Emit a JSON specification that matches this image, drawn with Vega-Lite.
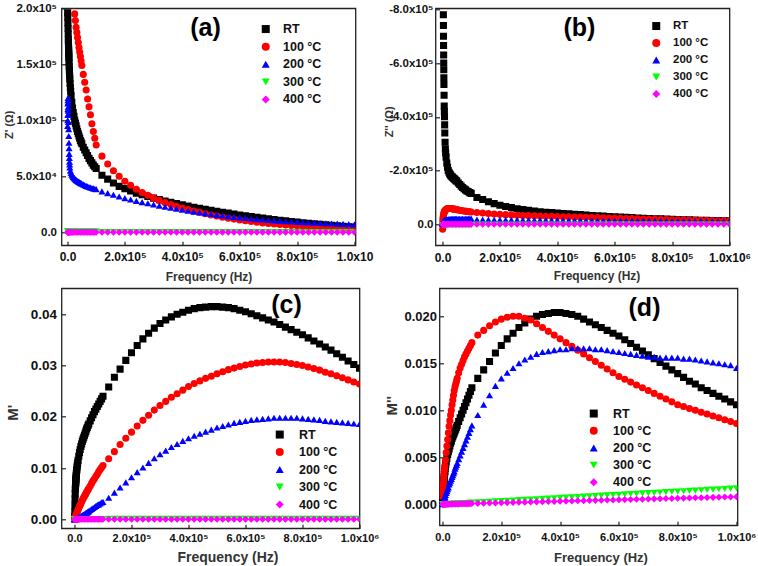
{
"$schema": "https://vega.github.io/schema/vega-lite/v6.json",
"background": "white",
"padding": {"left": 2.5, "top": 1.3, "right": 2, "bottom": 2},
"config": {
 "font": "Liberation Sans",
 "view": {"stroke": "#222", "strokeWidth": 1.3},
 "axis": {"grid": false, "domain": false, "tickSize": -4, "tickColor": "#222", "tickWidth": 1.2, "labelFont": "Liberation Sans", "labelFontWeight": "bold", "labelColor": "#111", "titleFont": "Liberation Sans", "titleFontWeight": "bold", "titleColor": "#333", "labelOverlap": false, "labelFlush": false, "labelBound": false, "titleBaseline": "middle"},
 "legend": {"padding": 0, "labelFont": "Liberation Sans", "labelFontWeight": "bold", "labelColor": "#111", "symbolStrokeWidth": 0, "symbolSize": 64, "titlePadding": 0},
 "text": {"font": "Liberation Sans"}
},
"datasets": {"m": [
{"f":500,"s":"RT","a":196000,"b":-2500000,"c":0.0005,"d":0.0003},
{"f":1000,"s":"RT","a":192000,"b":-1500000,"c":0.0015,"d":0.0005},
{"f":1500,"s":"RT","a":187000,"b":-1200000,"c":0.0028,"d":0.0008},
{"f":2000,"s":"RT","a":182000,"b":-1000000,"c":0.004,"d":0.001},
{"f":2500,"s":"RT","a":177000,"b":-880000,"c":0.005,"d":0.0013},
{"f":3000,"s":"RT","a":172000,"b":-780000,"c":0.0058,"d":0.0015},
{"f":3250,"s":"RT","a":170000,"b":-740000,"c":0.0061,"d":0.0016},
{"f":3500,"s":"RT","a":167500,"b":-700000,"c":0.0064,"d":0.0018},
{"f":3750,"s":"RT","a":165000,"b":-665000,"c":0.0067,"d":0.0019},
{"f":4000,"s":"RT","a":163000,"b":-630000,"c":0.007,"d":0.002},
{"f":4250,"s":"RT","a":161000,"b":-600000,"c":0.0072,"d":0.0021},
{"f":4500,"s":"RT","a":159000,"b":-575000,"c":0.0075,"d":0.0023},
{"f":4750,"s":"RT","a":157000,"b":-545000,"c":0.0077,"d":0.0024},
{"f":5000,"s":"RT","a":155000,"b":-520000,"c":0.0079,"d":0.0025},
{"f":5500,"s":"RT","a":151500,"b":-480000,"c":0.0083,"d":0.0027},
{"f":6000,"s":"RT","a":148000,"b":-440000,"c":0.0086,"d":0.0029},
{"f":6500,"s":"RT","a":145000,"b":-420000,"c":0.0089,"d":0.0031},
{"f":7000,"s":"RT","a":142000,"b":-400000,"c":0.0092,"d":0.0032},
{"f":7500,"s":"RT","a":139500,"b":-370000,"c":0.0095,"d":0.0034},
{"f":8000,"s":"RT","a":137000,"b":-340000,"c":0.0097,"d":0.0035},
{"f":9000,"s":"RT","a":133000,"b":-305000,"c":0.0102,"d":0.0038},
{"f":10000,"s":"RT","a":129000,"b":-280000,"c":0.0106,"d":0.004},
{"f":11000,"s":"RT","a":126000,"b":-265000,"c":0.011,"d":0.0042},
{"f":12500,"s":"RT","a":122000,"b":-250000,"c":0.0115,"d":0.0045},
{"f":15000,"s":"RT","a":116000,"b":-228000,"c":0.0123,"d":0.0049},
{"f":17500,"s":"RT","a":111000,"b":-212000,"c":0.013,"d":0.0053},
{"f":20000,"s":"RT","a":107000,"b":-200000,"c":0.0136,"d":0.0056},
{"f":22500,"s":"RT","a":103500,"b":-194000,"c":0.0142,"d":0.0059},
{"f":25000,"s":"RT","a":100000,"b":-188000,"c":0.0147,"d":0.0062},
{"f":27500,"s":"RT","a":97500,"b":-184000,"c":0.0152,"d":0.0065},
{"f":30000,"s":"RT","a":95000,"b":-180000,"c":0.0156,"d":0.0067},
{"f":32500,"s":"RT","a":92500,"b":-177500,"c":0.016,"d":0.007},
{"f":35000,"s":"RT","a":90000,"b":-175000,"c":0.0164,"d":0.0072},
{"f":37500,"s":"RT","a":88000,"b":-172500,"c":0.0168,"d":0.0074},
{"f":40000,"s":"RT","a":86000,"b":-170000,"c":0.0172,"d":0.0076},
{"f":42500,"s":"RT","a":84000,"b":-167500,"c":0.0176,"d":0.0078},
{"f":45000,"s":"RT","a":82000,"b":-165000,"c":0.0179,"d":0.008},
{"f":47500,"s":"RT","a":80500,"b":-162500,"c":0.0183,"d":0.0082},
{"f":50000,"s":"RT","a":79000,"b":-160000,"c":0.0186,"d":0.0084},
{"f":55000,"s":"RT","a":76000,"b":-154000,"c":0.0192,"d":0.0088},
{"f":60000,"s":"RT","a":73500,"b":-148000,"c":0.0198,"d":0.0092},
{"f":65000,"s":"RT","a":71000,"b":-142000,"c":0.0204,"d":0.0096},
{"f":70000,"s":"RT","a":68500,"b":-137000,"c":0.021,"d":0.01},
{"f":75000,"s":"RT","a":66000,"b":-132000,"c":0.0215,"d":0.0104},
{"f":80000,"s":"RT","a":64000,"b":-128000,"c":0.022,"d":0.0108},
{"f":85000,"s":"RT","a":62000,"b":-124000,"c":0.0225,"d":0.0112},
{"f":90000,"s":"RT","a":60000,"b":-121000,"c":0.023,"d":0.0116},
{"f":95000,"s":"RT","a":58500,"b":-118000,"c":0.0235,"d":0.012},
{"f":100000,"s":"RT","a":57000,"b":-115000,"c":0.024,"d":0.0124},
{"f":120000,"s":"RT","a":51000,"b":-100000,"c":0.0258,"d":0.0134},
{"f":140000,"s":"RT","a":47500,"b":-92000,"c":0.0277,"d":0.0143},
{"f":160000,"s":"RT","a":44000,"b":-84000,"c":0.0293,"d":0.0152},
{"f":180000,"s":"RT","a":41000,"b":-77000,"c":0.031,"d":0.0161},
{"f":200000,"s":"RT","a":39000,"b":-71000,"c":0.0325,"d":0.0169},
{"f":220000,"s":"RT","a":37000,"b":-66000,"c":0.0339,"d":0.0176},
{"f":240000,"s":"RT","a":35000,"b":-62000,"c":0.0352,"d":0.0182},
{"f":260000,"s":"RT","a":33500,"b":-58000,"c":0.0363,"d":0.0188},
{"f":280000,"s":"RT","a":32000,"b":-55000,"c":0.0373,"d":0.0193},
{"f":300000,"s":"RT","a":30500,"b":-52000,"c":0.0382,"d":0.0197},
{"f":320000,"s":"RT","a":29200,"b":-49500,"c":0.0389,"d":0.02},
{"f":340000,"s":"RT","a":28000,"b":-47000,"c":0.0395,"d":0.0202},
{"f":360000,"s":"RT","a":26800,"b":-45000,"c":0.04,"d":0.0203},
{"f":380000,"s":"RT","a":25600,"b":-43500,"c":0.0404,"d":0.0204},
{"f":400000,"s":"RT","a":24500,"b":-42000,"c":0.0408,"d":0.0204},
{"f":420000,"s":"RT","a":23400,"b":-40500,"c":0.0411,"d":0.0203},
{"f":440000,"s":"RT","a":22400,"b":-39000,"c":0.0413,"d":0.0202},
{"f":460000,"s":"RT","a":21400,"b":-37500,"c":0.0414,"d":0.02},
{"f":480000,"s":"RT","a":20500,"b":-36000,"c":0.0415,"d":0.0197},
{"f":500000,"s":"RT","a":19600,"b":-34500,"c":0.0415,"d":0.0194},
{"f":520000,"s":"RT","a":18700,"b":-33000,"c":0.0414,"d":0.0191},
{"f":540000,"s":"RT","a":17900,"b":-31700,"c":0.0413,"d":0.0188},
{"f":560000,"s":"RT","a":17100,"b":-30400,"c":0.0411,"d":0.0185},
{"f":580000,"s":"RT","a":16300,"b":-29200,"c":0.0408,"d":0.0182},
{"f":600000,"s":"RT","a":15500,"b":-28000,"c":0.0405,"d":0.0179},
{"f":620000,"s":"RT","a":14800,"b":-26900,"c":0.0401,"d":0.0175},
{"f":640000,"s":"RT","a":14100,"b":-25800,"c":0.0397,"d":0.0171},
{"f":660000,"s":"RT","a":13400,"b":-24800,"c":0.0393,"d":0.0167},
{"f":680000,"s":"RT","a":12700,"b":-23800,"c":0.0389,"d":0.0163},
{"f":700000,"s":"RT","a":12000,"b":-22800,"c":0.0385,"d":0.0159},
{"f":720000,"s":"RT","a":11400,"b":-21900,"c":0.038,"d":0.0155},
{"f":740000,"s":"RT","a":10800,"b":-21000,"c":0.0375,"d":0.0151},
{"f":760000,"s":"RT","a":10200,"b":-20200,"c":0.037,"d":0.0147},
{"f":780000,"s":"RT","a":9600,"b":-19400,"c":0.0365,"d":0.0143},
{"f":800000,"s":"RT","a":9100,"b":-18600,"c":0.036,"d":0.0139},
{"f":820000,"s":"RT","a":8600,"b":-17900,"c":0.0354,"d":0.0135},
{"f":840000,"s":"RT","a":8100,"b":-17200,"c":0.0348,"d":0.0131},
{"f":860000,"s":"RT","a":7600,"b":-16600,"c":0.0342,"d":0.0128},
{"f":880000,"s":"RT","a":7100,"b":-16000,"c":0.0336,"d":0.0124},
{"f":900000,"s":"RT","a":6700,"b":-15400,"c":0.033,"d":0.0121},
{"f":920000,"s":"RT","a":6200,"b":-14900,"c":0.0323,"d":0.0118},
{"f":940000,"s":"RT","a":5800,"b":-14400,"c":0.0316,"d":0.0115},
{"f":960000,"s":"RT","a":5400,"b":-13900,"c":0.0309,"d":0.0112},
{"f":980000,"s":"RT","a":5000,"b":-13400,"c":0.0302,"d":0.0109},
{"f":1000000,"s":"RT","a":4600,"b":-13000,"c":0.0295,"d":0.0106},
{"f":500,"s":"100 °C","a":1500000,"b":18000,"c":0.0001,"d":0.0008},
{"f":1000,"s":"100 °C","a":900000,"b":-5000,"c":0.0002,"d":0.0012},
{"f":1500,"s":"100 °C","a":750000,"b":-15000,"c":0.0003,"d":0.0015},
{"f":2000,"s":"100 °C","a":650000,"b":-22000,"c":0.0003,"d":0.0018},
{"f":2500,"s":"100 °C","a":580000,"b":-27000,"c":0.0004,"d":0.0021},
{"f":3000,"s":"100 °C","a":520000,"b":-31000,"c":0.0005,"d":0.0023},
{"f":4000,"s":"100 °C","a":440000,"b":-37000,"c":0.0006,"d":0.0027},
{"f":5000,"s":"100 °C","a":390000,"b":-42000,"c":0.0008,"d":0.0031},
{"f":6000,"s":"100 °C","a":350000,"b":-45500,"c":0.0009,"d":0.0035},
{"f":7000,"s":"100 °C","a":320000,"b":-48000,"c":0.001,"d":0.0038},
{"f":8000,"s":"100 °C","a":300000,"b":-50000,"c":0.0012,"d":0.0041},
{"f":10000,"s":"100 °C","a":270000,"b":-53000,"c":0.0015,"d":0.0047},
{"f":12500,"s":"100 °C","a":250000,"b":-55500,"c":0.0018,"d":0.0055},
{"f":15000,"s":"100 °C","a":235000,"b":-57000,"c":0.0022,"d":0.0062},
{"f":17500,"s":"100 °C","a":222000,"b":-58500,"c":0.0025,"d":0.0069},
{"f":20000,"s":"100 °C","a":212000,"b":-59000,"c":0.0028,"d":0.0076},
{"f":22500,"s":"100 °C","a":203000,"b":-59000,"c":0.0031,"d":0.0083},
{"f":25000,"s":"100 °C","a":195000,"b":-59000,"c":0.0034,"d":0.0089},
{"f":27500,"s":"100 °C","a":189000,"b":-58800,"c":0.0037,"d":0.0095},
{"f":30000,"s":"100 °C","a":183000,"b":-58500,"c":0.004,"d":0.01},
{"f":32500,"s":"100 °C","a":178500,"b":-58000,"c":0.0043,"d":0.0106},
{"f":35000,"s":"100 °C","a":174000,"b":-57500,"c":0.0045,"d":0.0111},
{"f":37500,"s":"100 °C","a":169500,"b":-57000,"c":0.0048,"d":0.0116},
{"f":40000,"s":"100 °C","a":165000,"b":-56500,"c":0.005,"d":0.0121},
{"f":42500,"s":"100 °C","a":161000,"b":-56000,"c":0.0053,"d":0.0125},
{"f":45000,"s":"100 °C","a":157000,"b":-55500,"c":0.0055,"d":0.0128},
{"f":47500,"s":"100 °C","a":153000,"b":-55000,"c":0.0058,"d":0.0131},
{"f":50000,"s":"100 °C","a":149000,"b":-54500,"c":0.006,"d":0.0134},
{"f":55000,"s":"100 °C","a":141000,"b":-53500,"c":0.0065,"d":0.014},
{"f":60000,"s":"100 °C","a":134000,"b":-52500,"c":0.007,"d":0.0145},
{"f":65000,"s":"100 °C","a":127000,"b":-51500,"c":0.0075,"d":0.0149},
{"f":70000,"s":"100 °C","a":119000,"b":-50500,"c":0.0079,"d":0.0153},
{"f":75000,"s":"100 °C","a":112000,"b":-49500,"c":0.0084,"d":0.0157},
{"f":80000,"s":"100 °C","a":105000,"b":-48700,"c":0.0088,"d":0.016},
{"f":85000,"s":"100 °C","a":97000,"b":-48000,"c":0.0093,"d":0.0163},
{"f":90000,"s":"100 °C","a":90000,"b":-47200,"c":0.0097,"d":0.0166},
{"f":95000,"s":"100 °C","a":84000,"b":-46500,"c":0.0101,"d":0.0169},
{"f":100000,"s":"100 °C","a":78000,"b":-46000,"c":0.0105,"d":0.0172},
{"f":120000,"s":"100 °C","a":68000,"b":-44000,"c":0.0118,"d":0.018},
{"f":140000,"s":"100 °C","a":61000,"b":-42000,"c":0.0132,"d":0.0185},
{"f":160000,"s":"100 °C","a":55000,"b":-40000,"c":0.0146,"d":0.019},
{"f":180000,"s":"100 °C","a":50000,"b":-38500,"c":0.0158,"d":0.0194},
{"f":200000,"s":"100 °C","a":45600,"b":-37000,"c":0.017,"d":0.0197},
{"f":220000,"s":"100 °C","a":42000,"b":-36000,"c":0.0182,"d":0.0199},
{"f":240000,"s":"100 °C","a":38500,"b":-35000,"c":0.0193,"d":0.02},
{"f":260000,"s":"100 °C","a":35500,"b":-34000,"c":0.0203,"d":0.02},
{"f":280000,"s":"100 °C","a":33000,"b":-33000,"c":0.0213,"d":0.0198},
{"f":300000,"s":"100 °C","a":30500,"b":-32200,"c":0.0222,"d":0.0196},
{"f":320000,"s":"100 °C","a":28500,"b":-31500,"c":0.023,"d":0.0192},
{"f":340000,"s":"100 °C","a":26500,"b":-30800,"c":0.0238,"d":0.0188},
{"f":360000,"s":"100 °C","a":24800,"b":-30200,"c":0.0245,"d":0.0184},
{"f":380000,"s":"100 °C","a":23200,"b":-29600,"c":0.0252,"d":0.018},
{"f":400000,"s":"100 °C","a":21700,"b":-29000,"c":0.0259,"d":0.0176},
{"f":420000,"s":"100 °C","a":20300,"b":-28400,"c":0.0265,"d":0.0172},
{"f":440000,"s":"100 °C","a":19000,"b":-27800,"c":0.027,"d":0.0168},
{"f":460000,"s":"100 °C","a":17800,"b":-27200,"c":0.0275,"d":0.0164},
{"f":480000,"s":"100 °C","a":16600,"b":-26600,"c":0.0279,"d":0.016},
{"f":500000,"s":"100 °C","a":15500,"b":-26000,"c":0.0284,"d":0.0156},
{"f":520000,"s":"100 °C","a":14500,"b":-25400,"c":0.0288,"d":0.0152},
{"f":540000,"s":"100 °C","a":13500,"b":-24800,"c":0.0292,"d":0.0148},
{"f":560000,"s":"100 °C","a":12600,"b":-24200,"c":0.0295,"d":0.0144},
{"f":580000,"s":"100 °C","a":11800,"b":-23600,"c":0.0298,"d":0.014},
{"f":600000,"s":"100 °C","a":11000,"b":-23000,"c":0.0301,"d":0.0136},
{"f":620000,"s":"100 °C","a":10300,"b":-22400,"c":0.0303,"d":0.0133},
{"f":640000,"s":"100 °C","a":9600,"b":-21800,"c":0.0305,"d":0.013},
{"f":660000,"s":"100 °C","a":9000,"b":-21200,"c":0.0306,"d":0.0127},
{"f":680000,"s":"100 °C","a":8400,"b":-20600,"c":0.0307,"d":0.0124},
{"f":700000,"s":"100 °C","a":7900,"b":-20000,"c":0.0307,"d":0.0121},
{"f":720000,"s":"100 °C","a":7400,"b":-19400,"c":0.0307,"d":0.0118},
{"f":740000,"s":"100 °C","a":6900,"b":-18800,"c":0.0306,"d":0.0115},
{"f":760000,"s":"100 °C","a":6500,"b":-18200,"c":0.0304,"d":0.0112},
{"f":780000,"s":"100 °C","a":6100,"b":-17600,"c":0.0302,"d":0.0109},
{"f":800000,"s":"100 °C","a":5800,"b":-17000,"c":0.03,"d":0.0106},
{"f":820000,"s":"100 °C","a":5500,"b":-16500,"c":0.0297,"d":0.0104},
{"f":840000,"s":"100 °C","a":5200,"b":-16000,"c":0.0294,"d":0.0102},
{"f":860000,"s":"100 °C","a":4900,"b":-15500,"c":0.0291,"d":0.01},
{"f":880000,"s":"100 °C","a":4700,"b":-15000,"c":0.0287,"d":0.0098},
{"f":900000,"s":"100 °C","a":4500,"b":-14500,"c":0.0284,"d":0.0096},
{"f":920000,"s":"100 °C","a":4300,"b":-14000,"c":0.028,"d":0.0094},
{"f":940000,"s":"100 °C","a":4100,"b":-13600,"c":0.0276,"d":0.0092},
{"f":960000,"s":"100 °C","a":3900,"b":-13200,"c":0.0272,"d":0.009},
{"f":980000,"s":"100 °C","a":3800,"b":-12800,"c":0.0268,"d":0.0088},
{"f":1000000,"s":"100 °C","a":3700,"b":-12500,"c":0.0264,"d":0.0086},
{"f":500,"s":"200 °C","a":95000,"b":-2000,"c":0,"d":0},
{"f":750,"s":"200 °C","a":100000,"b":-3000,"c":0,"d":0.00005},
{"f":1000,"s":"200 °C","a":105000,"b":-4000,"c":0,"d":0.0001},
{"f":1250,"s":"200 °C","a":110000,"b":-5000,"c":0,"d":0.0001},
{"f":1500,"s":"200 °C","a":115000,"b":-6000,"c":0,"d":0.0001},
{"f":1750,"s":"200 °C","a":118000,"b":-6800,"c":0,"d":0.00015},
{"f":2000,"s":"200 °C","a":120000,"b":-7500,"c":0.0001,"d":0.0002},
{"f":2250,"s":"200 °C","a":116000,"b":-8200,"c":0.0001,"d":0.0002},
{"f":2500,"s":"200 °C","a":112000,"b":-9000,"c":0.0001,"d":0.0002},
{"f":2750,"s":"200 °C","a":108500,"b":-9500,"c":0.0001,"d":0.00025},
{"f":3000,"s":"200 °C","a":105000,"b":-10000,"c":0.0001,"d":0.0003},
{"f":3500,"s":"200 °C","a":98500,"b":-10800,"c":0.0001,"d":0.00035},
{"f":4000,"s":"200 °C","a":92000,"b":-11500,"c":0.0001,"d":0.0004},
{"f":4500,"s":"200 °C","a":86000,"b":-12000,"c":0.0001,"d":0.00045},
{"f":5000,"s":"200 °C","a":80000,"b":-12500,"c":0.0001,"d":0.0005},
{"f":5500,"s":"200 °C","a":75000,"b":-13000,"c":0.0001,"d":0.00055},
{"f":6000,"s":"200 °C","a":70000,"b":-13500,"c":0.0001,"d":0.0006},
{"f":6500,"s":"200 °C","a":66500,"b":-13900,"c":0.0001,"d":0.00065},
{"f":7000,"s":"200 °C","a":63000,"b":-14200,"c":0.0001,"d":0.0007},
{"f":7500,"s":"200 °C","a":60500,"b":-14600,"c":0.0001,"d":0.00075},
{"f":8000,"s":"200 °C","a":58000,"b":-15000,"c":0.0002,"d":0.0008},
{"f":10000,"s":"200 °C","a":55000,"b":-16000,"c":0.0002,"d":0.001},
{"f":12500,"s":"200 °C","a":53000,"b":-17000,"c":0.0003,"d":0.0012},
{"f":15000,"s":"200 °C","a":51500,"b":-17500,"c":0.0004,"d":0.0014},
{"f":17500,"s":"200 °C","a":50500,"b":-18000,"c":0.0004,"d":0.0016},
{"f":20000,"s":"200 °C","a":49500,"b":-18500,"c":0.0005,"d":0.0018},
{"f":22500,"s":"200 °C","a":48700,"b":-18800,"c":0.0006,"d":0.0021},
{"f":25000,"s":"200 °C","a":48000,"b":-19000,"c":0.0007,"d":0.0023},
{"f":27500,"s":"200 °C","a":47400,"b":-19200,"c":0.0008,"d":0.0025},
{"f":30000,"s":"200 °C","a":46800,"b":-19300,"c":0.0008,"d":0.0027},
{"f":32500,"s":"200 °C","a":46300,"b":-19500,"c":0.0009,"d":0.0029},
{"f":35000,"s":"200 °C","a":45800,"b":-19600,"c":0.001,"d":0.0031},
{"f":37500,"s":"200 °C","a":45400,"b":-19700,"c":0.0011,"d":0.0033},
{"f":40000,"s":"200 °C","a":45000,"b":-19800,"c":0.0012,"d":0.0035},
{"f":42500,"s":"200 °C","a":44600,"b":-19900,"c":0.0013,"d":0.0038},
{"f":45000,"s":"200 °C","a":44200,"b":-20000,"c":0.0014,"d":0.004},
{"f":47500,"s":"200 °C","a":43800,"b":-20100,"c":0.0015,"d":0.0042},
{"f":50000,"s":"200 °C","a":43500,"b":-20200,"c":0.0016,"d":0.0044},
{"f":55000,"s":"200 °C","a":42800,"b":-20400,"c":0.0018,"d":0.0048},
{"f":60000,"s":"200 °C","a":42100,"b":-20500,"c":0.002,"d":0.0052},
{"f":65000,"s":"200 °C","a":41500,"b":-20600,"c":0.0022,"d":0.0056},
{"f":70000,"s":"200 °C","a":41000,"b":-20700,"c":0.0024,"d":0.006},
{"f":75000,"s":"200 °C","a":40500,"b":-20800,"c":0.0026,"d":0.0064},
{"f":80000,"s":"200 °C","a":40000,"b":-20900,"c":0.0028,"d":0.0068},
{"f":85000,"s":"200 °C","a":39600,"b":-21000,"c":0.0029,"d":0.0072},
{"f":90000,"s":"200 °C","a":39200,"b":-21000,"c":0.0031,"d":0.0076},
{"f":95000,"s":"200 °C","a":38800,"b":-21000,"c":0.0033,"d":0.008},
{"f":100000,"s":"200 °C","a":38500,"b":-21000,"c":0.0034,"d":0.0084},
{"f":120000,"s":"200 °C","a":36500,"b":-17500,"c":0.0042,"d":0.0095},
{"f":140000,"s":"200 °C","a":35000,"b":-17400,"c":0.0052,"d":0.0106},
{"f":160000,"s":"200 °C","a":33500,"b":-17200,"c":0.0062,"d":0.0116},
{"f":180000,"s":"200 °C","a":32000,"b":-17100,"c":0.0072,"d":0.0126},
{"f":200000,"s":"200 °C","a":30500,"b":-17000,"c":0.0082,"d":0.0134},
{"f":220000,"s":"200 °C","a":29300,"b":-16800,"c":0.0092,"d":0.014},
{"f":240000,"s":"200 °C","a":28100,"b":-16700,"c":0.0101,"d":0.0145},
{"f":260000,"s":"200 °C","a":27000,"b":-16500,"c":0.011,"d":0.015},
{"f":280000,"s":"200 °C","a":25900,"b":-16400,"c":0.0119,"d":0.0154},
{"f":300000,"s":"200 °C","a":24800,"b":-16200,"c":0.0127,"d":0.0157},
{"f":320000,"s":"200 °C","a":23800,"b":-16100,"c":0.0134,"d":0.016},
{"f":340000,"s":"200 °C","a":22800,"b":-15900,"c":0.0141,"d":0.0162},
{"f":360000,"s":"200 °C","a":21900,"b":-15800,"c":0.0147,"d":0.0163},
{"f":380000,"s":"200 °C","a":21000,"b":-15600,"c":0.0153,"d":0.0164},
{"f":400000,"s":"200 °C","a":20100,"b":-15500,"c":0.0158,"d":0.0165},
{"f":420000,"s":"200 °C","a":19300,"b":-15300,"c":0.0163,"d":0.0165},
{"f":440000,"s":"200 °C","a":18500,"b":-15200,"c":0.0167,"d":0.0166},
{"f":460000,"s":"200 °C","a":17700,"b":-15000,"c":0.0171,"d":0.0166},
{"f":480000,"s":"200 °C","a":17000,"b":-14900,"c":0.0175,"d":0.0166},
{"f":500000,"s":"200 °C","a":16300,"b":-14700,"c":0.0179,"d":0.0166},
{"f":520000,"s":"200 °C","a":15600,"b":-14600,"c":0.0182,"d":0.0165},
{"f":540000,"s":"200 °C","a":15000,"b":-14400,"c":0.0185,"d":0.0165},
{"f":560000,"s":"200 °C","a":14400,"b":-14300,"c":0.0188,"d":0.0164},
{"f":580000,"s":"200 °C","a":13800,"b":-14100,"c":0.019,"d":0.0163},
{"f":600000,"s":"200 °C","a":13300,"b":-14000,"c":0.0192,"d":0.0162},
{"f":620000,"s":"200 °C","a":12800,"b":-13800,"c":0.0194,"d":0.0161},
{"f":640000,"s":"200 °C","a":12300,"b":-13700,"c":0.0195,"d":0.016},
{"f":660000,"s":"200 °C","a":11800,"b":-13500,"c":0.0196,"d":0.0159},
{"f":680000,"s":"200 °C","a":11400,"b":-13400,"c":0.0197,"d":0.0158},
{"f":700000,"s":"200 °C","a":11000,"b":-13200,"c":0.0198,"d":0.0157},
{"f":720000,"s":"200 °C","a":10600,"b":-13100,"c":0.0198,"d":0.0157},
{"f":740000,"s":"200 °C","a":10200,"b":-12900,"c":0.0198,"d":0.0156},
{"f":760000,"s":"200 °C","a":9900,"b":-12800,"c":0.0198,"d":0.0156},
{"f":780000,"s":"200 °C","a":9600,"b":-12600,"c":0.0198,"d":0.0156},
{"f":800000,"s":"200 °C","a":9300,"b":-12500,"c":0.0197,"d":0.0156},
{"f":820000,"s":"200 °C","a":9000,"b":-12300,"c":0.0196,"d":0.0155},
{"f":840000,"s":"200 °C","a":8800,"b":-12200,"c":0.0195,"d":0.0155},
{"f":860000,"s":"200 °C","a":8500,"b":-12000,"c":0.0194,"d":0.0154},
{"f":880000,"s":"200 °C","a":8300,"b":-11900,"c":0.0192,"d":0.0153},
{"f":900000,"s":"200 °C","a":8100,"b":-11700,"c":0.0191,"d":0.0152},
{"f":920000,"s":"200 °C","a":7900,"b":-11600,"c":0.019,"d":0.0151},
{"f":940000,"s":"200 °C","a":7700,"b":-11400,"c":0.0189,"d":0.015},
{"f":960000,"s":"200 °C","a":7500,"b":-11300,"c":0.0188,"d":0.0149},
{"f":980000,"s":"200 °C","a":7300,"b":-11100,"c":0.0187,"d":0.0148},
{"f":1000000,"s":"200 °C","a":7100,"b":-11000,"c":0.0186,"d":0.0145},
{"f":500,"s":"300 °C","a":600,"b":2500,"c":0.00005,"d":0},
{"f":1000,"s":"300 °C","a":600,"b":2500,"c":0.00005,"d":0},
{"f":1500,"s":"300 °C","a":600,"b":2500,"c":0.00005,"d":0},
{"f":2000,"s":"300 °C","a":600,"b":2500,"c":0.00005,"d":0},
{"f":2500,"s":"300 °C","a":600,"b":2500,"c":0.00005,"d":0},
{"f":3000,"s":"300 °C","a":600,"b":2500,"c":0.00005,"d":0},
{"f":4000,"s":"300 °C","a":600,"b":2500,"c":0.00005,"d":0},
{"f":5000,"s":"300 °C","a":600,"b":2500,"c":0.00005,"d":0},
{"f":6000,"s":"300 °C","a":600,"b":2500,"c":0.00005,"d":0},
{"f":7000,"s":"300 °C","a":600,"b":2500,"c":0.00005,"d":0},
{"f":8000,"s":"300 °C","a":600,"b":2500,"c":0.00005,"d":0},
{"f":10000,"s":"300 °C","a":600,"b":2500,"c":0.00005,"d":0},
{"f":12500,"s":"300 °C","a":600,"b":2500,"c":0.00005,"d":0.00002},
{"f":15000,"s":"300 °C","a":600,"b":2500,"c":0.00005,"d":0.00003},
{"f":17500,"s":"300 °C","a":600,"b":2500,"c":0.00005,"d":0.00003},
{"f":20000,"s":"300 °C","a":600,"b":2500,"c":0.00005,"d":0.00003},
{"f":25000,"s":"300 °C","a":600,"b":2500,"c":0.00005,"d":0.00004},
{"f":30000,"s":"300 °C","a":600,"b":2500,"c":0.00005,"d":0.00005},
{"f":35000,"s":"300 °C","a":600,"b":2500,"c":0.00005,"d":0.00006},
{"f":40000,"s":"300 °C","a":600,"b":2500,"c":0.00005,"d":0.00007},
{"f":45000,"s":"300 °C","a":600,"b":2500,"c":0.00005,"d":0.00008},
{"f":50000,"s":"300 °C","a":600,"b":2500,"c":0.00005,"d":0.00009},
{"f":55000,"s":"300 °C","a":600,"b":2500,"c":0.00005,"d":0.00009},
{"f":60000,"s":"300 °C","a":600,"b":2500,"c":0.00005,"d":0.0001},
{"f":65000,"s":"300 °C","a":600,"b":2500,"c":0.00005,"d":0.00011},
{"f":70000,"s":"300 °C","a":600,"b":2500,"c":0.00005,"d":0.00012},
{"f":75000,"s":"300 °C","a":600,"b":2500,"c":0.00005,"d":0.00013},
{"f":80000,"s":"300 °C","a":600,"b":2500,"c":0.00005,"d":0.00014},
{"f":85000,"s":"300 °C","a":600,"b":2500,"c":0.00005,"d":0.00014},
{"f":90000,"s":"300 °C","a":600,"b":2500,"c":0.00005,"d":0.00015},
{"f":95000,"s":"300 °C","a":600,"b":2500,"c":0.00005,"d":0.00016},
{"f":100000,"s":"300 °C","a":600,"b":2500,"c":0.00005,"d":0.00017},
{"f":120000,"s":"300 °C","a":300,"b":500,"c":0.0001,"d":0.0002},
{"f":140000,"s":"300 °C","a":300,"b":500,"c":0.0001,"d":0.00024},
{"f":160000,"s":"300 °C","a":300,"b":500,"c":0.0001,"d":0.00027},
{"f":180000,"s":"300 °C","a":300,"b":500,"c":0.0001,"d":0.00031},
{"f":200000,"s":"300 °C","a":300,"b":500,"c":0.0001,"d":0.00034},
{"f":220000,"s":"300 °C","a":300,"b":500,"c":0.0001,"d":0.00037},
{"f":240000,"s":"300 °C","a":300,"b":500,"c":0.0001,"d":0.00041},
{"f":260000,"s":"300 °C","a":300,"b":500,"c":0.0001,"d":0.00044},
{"f":280000,"s":"300 °C","a":300,"b":500,"c":0.0001,"d":0.00048},
{"f":300000,"s":"300 °C","a":300,"b":500,"c":0.0001,"d":0.00051},
{"f":320000,"s":"300 °C","a":300,"b":500,"c":0.0001,"d":0.00054},
{"f":340000,"s":"300 °C","a":300,"b":500,"c":0.0001,"d":0.00058},
{"f":360000,"s":"300 °C","a":300,"b":500,"c":0.0001,"d":0.00061},
{"f":380000,"s":"300 °C","a":300,"b":500,"c":0.0001,"d":0.00065},
{"f":400000,"s":"300 °C","a":300,"b":500,"c":0.0001,"d":0.00068},
{"f":420000,"s":"300 °C","a":300,"b":500,"c":0.0001,"d":0.00071},
{"f":440000,"s":"300 °C","a":300,"b":500,"c":0.0001,"d":0.00075},
{"f":460000,"s":"300 °C","a":300,"b":500,"c":0.0001,"d":0.00078},
{"f":480000,"s":"300 °C","a":300,"b":500,"c":0.0001,"d":0.00082},
{"f":500000,"s":"300 °C","a":300,"b":500,"c":0.0001,"d":0.00085},
{"f":520000,"s":"300 °C","a":300,"b":500,"c":0.0001,"d":0.00088},
{"f":540000,"s":"300 °C","a":300,"b":500,"c":0.0001,"d":0.00092},
{"f":560000,"s":"300 °C","a":300,"b":500,"c":0.0001,"d":0.00095},
{"f":580000,"s":"300 °C","a":300,"b":500,"c":0.0001,"d":0.00099},
{"f":600000,"s":"300 °C","a":300,"b":500,"c":0.0001,"d":0.00102},
{"f":620000,"s":"300 °C","a":300,"b":500,"c":0.0001,"d":0.00105},
{"f":640000,"s":"300 °C","a":300,"b":500,"c":0.0001,"d":0.00109},
{"f":660000,"s":"300 °C","a":300,"b":500,"c":0.0001,"d":0.00112},
{"f":680000,"s":"300 °C","a":300,"b":500,"c":0.0001,"d":0.00116},
{"f":700000,"s":"300 °C","a":300,"b":500,"c":0.0001,"d":0.00119},
{"f":720000,"s":"300 °C","a":300,"b":500,"c":0.0001,"d":0.00122},
{"f":740000,"s":"300 °C","a":300,"b":500,"c":0.0001,"d":0.00126},
{"f":760000,"s":"300 °C","a":300,"b":500,"c":0.0001,"d":0.00129},
{"f":780000,"s":"300 °C","a":300,"b":500,"c":0.0001,"d":0.00133},
{"f":800000,"s":"300 °C","a":300,"b":500,"c":0.0001,"d":0.00136},
{"f":820000,"s":"300 °C","a":300,"b":500,"c":0.0001,"d":0.00139},
{"f":840000,"s":"300 °C","a":300,"b":500,"c":0.0001,"d":0.00143},
{"f":860000,"s":"300 °C","a":300,"b":500,"c":0.0001,"d":0.00146},
{"f":880000,"s":"300 °C","a":300,"b":500,"c":0.0001,"d":0.0015},
{"f":900000,"s":"300 °C","a":300,"b":500,"c":0.0001,"d":0.00153},
{"f":920000,"s":"300 °C","a":300,"b":500,"c":0.0001,"d":0.00156},
{"f":940000,"s":"300 °C","a":300,"b":500,"c":0.0001,"d":0.0016},
{"f":960000,"s":"300 °C","a":300,"b":500,"c":0.0001,"d":0.00163},
{"f":980000,"s":"300 °C","a":300,"b":500,"c":0.0001,"d":0.00167},
{"f":1000000,"s":"300 °C","a":300,"b":500,"c":0.0001,"d":0.0017},
{"f":500,"s":"400 °C","a":100,"b":0,"c":0,"d":0},
{"f":1000,"s":"400 °C","a":100,"b":0,"c":0,"d":0},
{"f":1500,"s":"400 °C","a":100,"b":0,"c":0,"d":0},
{"f":2000,"s":"400 °C","a":100,"b":0,"c":0,"d":0},
{"f":2500,"s":"400 °C","a":100,"b":0,"c":0,"d":0},
{"f":3000,"s":"400 °C","a":100,"b":0,"c":0,"d":0},
{"f":4000,"s":"400 °C","a":100,"b":0,"c":0,"d":0},
{"f":5000,"s":"400 °C","a":100,"b":0,"c":0,"d":0},
{"f":6000,"s":"400 °C","a":100,"b":0,"c":0,"d":0},
{"f":7000,"s":"400 °C","a":100,"b":0,"c":0,"d":0},
{"f":8000,"s":"400 °C","a":100,"b":0,"c":0,"d":0},
{"f":10000,"s":"400 °C","a":100,"b":0,"c":0,"d":0},
{"f":12500,"s":"400 °C","a":100,"b":0,"c":0,"d":0},
{"f":15000,"s":"400 °C","a":100,"b":0,"c":0,"d":0},
{"f":17500,"s":"400 °C","a":100,"b":0,"c":0,"d":0},
{"f":20000,"s":"400 °C","a":100,"b":0,"c":0,"d":0},
{"f":25000,"s":"400 °C","a":100,"b":0,"c":0,"d":0.00002},
{"f":30000,"s":"400 °C","a":100,"b":0,"c":0,"d":0.00002},
{"f":35000,"s":"400 °C","a":100,"b":0,"c":0,"d":0.00003},
{"f":40000,"s":"400 °C","a":100,"b":0,"c":0,"d":0.00003},
{"f":45000,"s":"400 °C","a":100,"b":0,"c":0,"d":0.00004},
{"f":50000,"s":"400 °C","a":100,"b":0,"c":0,"d":0.00004},
{"f":55000,"s":"400 °C","a":100,"b":0,"c":0,"d":0.00004},
{"f":60000,"s":"400 °C","a":100,"b":0,"c":0,"d":0.00005},
{"f":65000,"s":"400 °C","a":100,"b":0,"c":0,"d":0.00005},
{"f":70000,"s":"400 °C","a":100,"b":0,"c":0,"d":0.00006},
{"f":75000,"s":"400 °C","a":100,"b":0,"c":0,"d":0.00006},
{"f":80000,"s":"400 °C","a":100,"b":0,"c":0,"d":0.00006},
{"f":85000,"s":"400 °C","a":100,"b":0,"c":0,"d":0.00007},
{"f":90000,"s":"400 °C","a":100,"b":0,"c":0,"d":0.00007},
{"f":95000,"s":"400 °C","a":100,"b":0,"c":0,"d":0.00008},
{"f":100000,"s":"400 °C","a":100,"b":0,"c":0,"d":0.00008},
{"f":120000,"s":"400 °C","a":100,"b":0,"c":0,"d":0.0001},
{"f":140000,"s":"400 °C","a":100,"b":0,"c":0,"d":0.00011},
{"f":160000,"s":"400 °C","a":100,"b":0,"c":0,"d":0.00013},
{"f":180000,"s":"400 °C","a":100,"b":0,"c":0,"d":0.00014},
{"f":200000,"s":"400 °C","a":100,"b":0,"c":0,"d":0.00016},
{"f":220000,"s":"400 °C","a":100,"b":0,"c":0,"d":0.00018},
{"f":240000,"s":"400 °C","a":100,"b":0,"c":0,"d":0.00019},
{"f":260000,"s":"400 °C","a":100,"b":0,"c":0,"d":0.00021},
{"f":280000,"s":"400 °C","a":100,"b":0,"c":0,"d":0.00022},
{"f":300000,"s":"400 °C","a":100,"b":0,"c":0,"d":0.00024},
{"f":320000,"s":"400 °C","a":100,"b":0,"c":0,"d":0.00026},
{"f":340000,"s":"400 °C","a":100,"b":0,"c":0,"d":0.00027},
{"f":360000,"s":"400 °C","a":100,"b":0,"c":0,"d":0.00029},
{"f":380000,"s":"400 °C","a":100,"b":0,"c":0,"d":0.0003},
{"f":400000,"s":"400 °C","a":100,"b":0,"c":0,"d":0.00032},
{"f":420000,"s":"400 °C","a":100,"b":0,"c":0,"d":0.00034},
{"f":440000,"s":"400 °C","a":100,"b":0,"c":0,"d":0.00035},
{"f":460000,"s":"400 °C","a":100,"b":0,"c":0,"d":0.00037},
{"f":480000,"s":"400 °C","a":100,"b":0,"c":0,"d":0.00038},
{"f":500000,"s":"400 °C","a":100,"b":0,"c":0,"d":0.0004},
{"f":520000,"s":"400 °C","a":100,"b":0,"c":0,"d":0.00042},
{"f":540000,"s":"400 °C","a":100,"b":0,"c":0,"d":0.00043},
{"f":560000,"s":"400 °C","a":100,"b":0,"c":0,"d":0.00045},
{"f":580000,"s":"400 °C","a":100,"b":0,"c":0,"d":0.00046},
{"f":600000,"s":"400 °C","a":100,"b":0,"c":0,"d":0.00048},
{"f":620000,"s":"400 °C","a":100,"b":0,"c":0,"d":0.0005},
{"f":640000,"s":"400 °C","a":100,"b":0,"c":0,"d":0.00051},
{"f":660000,"s":"400 °C","a":100,"b":0,"c":0,"d":0.00053},
{"f":680000,"s":"400 °C","a":100,"b":0,"c":0,"d":0.00054},
{"f":700000,"s":"400 °C","a":100,"b":0,"c":0,"d":0.00056},
{"f":720000,"s":"400 °C","a":100,"b":0,"c":0,"d":0.00058},
{"f":740000,"s":"400 °C","a":100,"b":0,"c":0,"d":0.00059},
{"f":760000,"s":"400 °C","a":100,"b":0,"c":0,"d":0.00061},
{"f":780000,"s":"400 °C","a":100,"b":0,"c":0,"d":0.00062},
{"f":800000,"s":"400 °C","a":100,"b":0,"c":0,"d":0.00064},
{"f":820000,"s":"400 °C","a":100,"b":0,"c":0,"d":0.00066},
{"f":840000,"s":"400 °C","a":100,"b":0,"c":0,"d":0.00067},
{"f":860000,"s":"400 °C","a":100,"b":0,"c":0,"d":0.00069},
{"f":880000,"s":"400 °C","a":100,"b":0,"c":0,"d":0.0007},
{"f":900000,"s":"400 °C","a":100,"b":0,"c":0,"d":0.00072},
{"f":920000,"s":"400 °C","a":100,"b":0,"c":0,"d":0.00074},
{"f":940000,"s":"400 °C","a":100,"b":0,"c":0,"d":0.00075},
{"f":960000,"s":"400 °C","a":100,"b":0,"c":0,"d":0.00077},
{"f":980000,"s":"400 °C","a":100,"b":0,"c":0,"d":0.00078},
{"f":1000000,"s":"400 °C","a":100,"b":0,"c":0,"d":0.0008}
]},
"bounds": "full",
"spacing": 4,
"resolve": {"scale": {"color": "independent", "shape": "independent", "x": "independent", "y": "independent"}, "legend": {"color": "independent", "shape": "independent"}},
"vconcat": [
{"hconcat": [
 {"width": 294, "height": 237,
  "layer": [
   {"data": {"name": "m"}, "mark": {"type": "point", "filled": true, "size": 50, "opacity": 1, "clip": true},
    "encoding": {
     "x": {"field": "f", "type": "quantitative", "scale": {"domain": [-20900, 1003500], "nice": false, "zero": false},
       "axis": {"title": "Frequency (Hz)", "values": [0,100000,200000,300000,400000,500000,600000,700000,800000,900000,1000000], "labelExpr": "datum.value==0?'0.0':datum.value==200000?'2.0x10⁵':datum.value==400000?'4.0x10⁵':datum.value==600000?'6.0x10⁵':datum.value==800000?'8.0x10⁵':datum.value==1000000?'1.0x10':''", "labelFontSize": 12, "labelPadding": 10, "titleFontSize": 12, "titleX": 147, "titleY": 31}},
     "y": {"field": "a", "type": "quantitative", "scale": {"domain": [-11600, 200000], "nice": false, "zero": false},
       "axis": {"title": "Z' (Ω)", "values": [0,25000,50000,75000,100000,125000,150000,175000,200000], "labelExpr": "datum.value==0?'0.0':datum.value==50000?'5.0x10⁴':datum.value==100000?'1.0x10⁵':datum.value==150000?'1.5x10⁵':datum.value==200000?'2.0x10⁵':''", "labelFontSize": 11.5, "labelPadding": 9, "titleFontSize": 11, "titleX": -52, "titleY": 116}},
     "color": {"field": "s", "type": "nominal", "scale": {"domain": ["RT","100 °C","200 °C","300 °C","400 °C"], "range": ["#000000","#ff0000","#0000ff","#00ff00","#ff00ff"]},
       "legend": {"orient": "none", "legendX": 198, "legendY": 14.5, "title": null, "labelFontSize": 12.5, "labelOffset": 11, "rowPadding": 4.6}},
     "shape": {"field": "s", "type": "nominal", "scale": {"domain": ["RT","100 °C","200 °C","300 °C","400 °C"], "range": ["square","circle","triangle-up","triangle-down","diamond"]},
       "legend": {"orient": "none", "legendX": 198, "legendY": 14.5, "title": null, "labelFontSize": 12.5, "labelOffset": 11, "rowPadding": 4.6}}
    }},
   {"data": {"values": [{"x": 480800, "y": 182100, "t": "(a)"}]}, "mark": {"type": "text", "fontSize": 25, "fontWeight": "bold", "align": "center", "baseline": "middle", "color": "#000"},
    "encoding": {"x": {"field": "x", "type": "quantitative"}, "y": {"field": "y", "type": "quantitative"}, "text": {"field": "t"}}}
  ]},
 {"width": 294, "height": 237,
  "layer": [
   {"data": {"name": "m"}, "mark": {"type": "point", "filled": true, "size": 50, "opacity": 1, "clip": true},
    "encoding": {
     "x": {"field": "f", "type": "quantitative", "scale": {"domain": [-24400, 1000000], "nice": false, "zero": false},
       "axis": {"title": "Frequency (Hz)", "values": [0,100000,200000,300000,400000,500000,600000,700000,800000,900000,1000000], "labelExpr": "datum.value==0?'0.0':datum.value==200000?'2.0x10⁵':datum.value==400000?'4.0x10⁵':datum.value==600000?'6.0x10⁵':datum.value==800000?'8.0x10⁵':datum.value==1000000?'1.0x10⁶':''", "labelFontSize": 12, "labelPadding": 11, "titleFontSize": 12, "titleX": 161, "titleY": 30}},
     "y": {"field": "b", "type": "quantitative", "scale": {"domain": [-803700, 78100], "nice": false, "zero": false, "reverse": true},
       "axis": {"title": "Z'' (Ω)", "values": [-800000,-700000,-600000,-500000,-400000,-300000,-200000,-100000,0], "labelExpr": "datum.value==0?'0.0':datum.value==-200000?'-2.0x10⁵':datum.value==-400000?'-4.0x10⁵':datum.value==-600000?'-6.0x10⁵':datum.value==-800000?'-8.0x10⁵':''", "labelFontSize": 11.5, "labelPadding": 6.5, "titleFontSize": 11, "titleX": -46, "titleY": 113}},
     "color": {"field": "s", "type": "nominal", "scale": {"domain": ["RT","100 °C","200 °C","300 °C","400 °C"], "range": ["#000000","#ff0000","#0000ff","#00ff00","#ff00ff"]},
       "legend": {"orient": "none", "legendX": 215, "legendY": 12, "title": null, "labelFontSize": 11.5, "labelOffset": 11, "rowPadding": 4}},
     "shape": {"field": "s", "type": "nominal", "scale": {"domain": ["RT","100 °C","200 °C","300 °C","400 °C"], "range": ["square","circle","triangle-up","triangle-down","diamond"]},
       "legend": {"orient": "none", "legendX": 215, "legendY": 12, "title": null, "labelFontSize": 11.5, "labelOffset": 11, "rowPadding": 4}}
    }},
   {"data": {"values": [{"x": 477300, "y": -729300, "t": "(b)"}]}, "mark": {"type": "text", "fontSize": 25, "fontWeight": "bold", "align": "center", "baseline": "middle", "color": "#000"},
    "encoding": {"x": {"field": "x", "type": "quantitative"}, "y": {"field": "y", "type": "quantitative"}, "text": {"field": "t"}}}
  ]}
 ],
 "spacing": 80, "bounds": "flush",
 "resolve": {"scale": {"color": "independent", "shape": "independent", "x": "independent", "y": "independent"}, "legend": {"color": "independent", "shape": "independent"}}
},
{"hconcat": [
 {"width": 298, "height": 240,
  "layer": [
   {"data": {"name": "m"}, "mark": {"type": "point", "filled": true, "size": 50, "opacity": 1, "clip": true},
    "encoding": {
     "x": {"field": "f", "type": "quantitative", "scale": {"domain": [-45600, 1000000], "nice": false, "zero": false},
       "axis": {"title": "Frequency (Hz)", "values": [0,100000,200000,300000,400000,500000,600000,700000,800000,900000,1000000], "labelExpr": "datum.value==0?'0.0':datum.value==200000?'2.0x10⁵':datum.value==400000?'4.0x10⁵':datum.value==600000?'6.0x10⁵':datum.value==800000?'8.0x10⁵':datum.value==1000000?'1.0x10⁶':''", "labelFontSize": 11, "labelPadding": 8.5, "titleFontSize": 14, "titleX": 166, "titleY": 29}},
     "y": {"field": "c", "type": "quantitative", "scale": {"domain": [-0.00176, 0.04507], "nice": false, "zero": false},
       "axis": {"title": "M'", "values": [0,0.005,0.01,0.015,0.02,0.025,0.03,0.035,0.04], "labelExpr": "datum.value==0?'0.00':datum.value==0.01?'0.01':datum.value==0.02?'0.02':datum.value==0.03?'0.03':datum.value==0.04?'0.04':''", "labelFontSize": 13.5, "labelPadding": 9, "titleFontSize": 15, "titleX": -49, "titleY": 124}},
     "color": {"field": "s", "type": "nominal", "scale": {"domain": ["RT","100 °C","200 °C","300 °C","400 °C"], "range": ["#000000","#ff0000","#0000ff","#00ff00","#ff00ff"]},
       "legend": {"orient": "none", "legendX": 212, "legendY": 140, "title": null, "labelFontSize": 12.5, "labelOffset": 13, "rowPadding": 4.5}},
     "shape": {"field": "s", "type": "nominal", "scale": {"domain": ["RT","100 °C","200 °C","300 °C","400 °C"], "range": ["square","circle","triangle-up","triangle-down","diamond"]},
       "legend": {"orient": "none", "legendX": 212, "legendY": 140, "title": null, "labelFontSize": 12.5, "labelOffset": 13, "rowPadding": 4.5}}
    }},
   {"data": {"values": [{"x": 743800, "y": 0.04175, "t": "(c)"}]}, "mark": {"type": "text", "fontSize": 25, "fontWeight": "bold", "align": "center", "baseline": "middle", "color": "#000"},
    "encoding": {"x": {"field": "x", "type": "quantitative"}, "y": {"field": "y", "type": "quantitative"}, "text": {"field": "t"}}}
  ]},
 {"width": 298, "height": 237,
  "layer": [
   {"data": {"name": "m"}, "mark": {"type": "point", "filled": true, "size": 50, "opacity": 1, "clip": true},
    "encoding": {
     "x": {"field": "f", "type": "quantitative", "scale": {"domain": [-10200, 1003400], "nice": false, "zero": false},
       "axis": {"title": "Frequency (Hz)", "values": [0,100000,200000,300000,400000,500000,600000,700000,800000,900000,1000000], "labelExpr": "datum.value==0?'0.0':datum.value==200000?'2.0x10⁵':datum.value==400000?'4.0x10⁵':datum.value==600000?'6.0x10⁵':datum.value==800000?'8.0x10⁵':datum.value==1000000?'1.0x10⁶':''", "labelFontSize": 11, "labelPadding": 10.5, "titleFontSize": 13, "titleX": 161, "titleY": 32}},
     "y": {"field": "d", "type": "quantitative", "scale": {"domain": [-0.002234, 0.02298], "nice": false, "zero": false},
       "axis": {"title": "M''", "values": [0,0.0025,0.005,0.0075,0.01,0.0125,0.015,0.0175,0.02], "labelExpr": "datum.value==0?'0.000':datum.value==0.005?'0.005':datum.value==0.01?'0.010':datum.value==0.015?'0.015':datum.value==0.02?'0.020':''", "labelFontSize": 13, "labelPadding": 7, "titleFontSize": 15, "titleX": -48, "titleY": 117}},
     "color": {"field": "s", "type": "nominal", "scale": {"domain": ["RT","100 °C","200 °C","300 °C","400 °C"], "range": ["#000000","#ff0000","#0000ff","#00ff00","#ff00ff"]},
       "legend": {"orient": "none", "legendX": 148, "legendY": 119, "title": null, "labelFontSize": 12.5, "labelOffset": 13, "rowPadding": 4.2}},
     "shape": {"field": "s", "type": "nominal", "scale": {"domain": ["RT","100 °C","200 °C","300 °C","400 °C"], "range": ["square","circle","triangle-up","triangle-down","diamond"]},
       "legend": {"orient": "none", "legendX": 148, "legendY": 119, "title": null, "labelFontSize": 12.5, "labelOffset": 13, "rowPadding": 4.2}}
    }},
   {"data": {"values": [{"x": 687100, "y": 0.02085, "t": "(d)"}]}, "mark": {"type": "text", "fontSize": 25, "fontWeight": "bold", "align": "center", "baseline": "middle", "color": "#000"},
    "encoding": {"x": {"field": "x", "type": "quantitative"}, "y": {"field": "y", "type": "quantitative"}, "text": {"field": "t"}}}
  ]}
 ],
 "spacing": 80, "bounds": "flush",
 "resolve": {"scale": {"color": "independent", "shape": "independent", "x": "independent", "y": "independent"}, "legend": {"color": "independent", "shape": "independent"}}
}
]
}
